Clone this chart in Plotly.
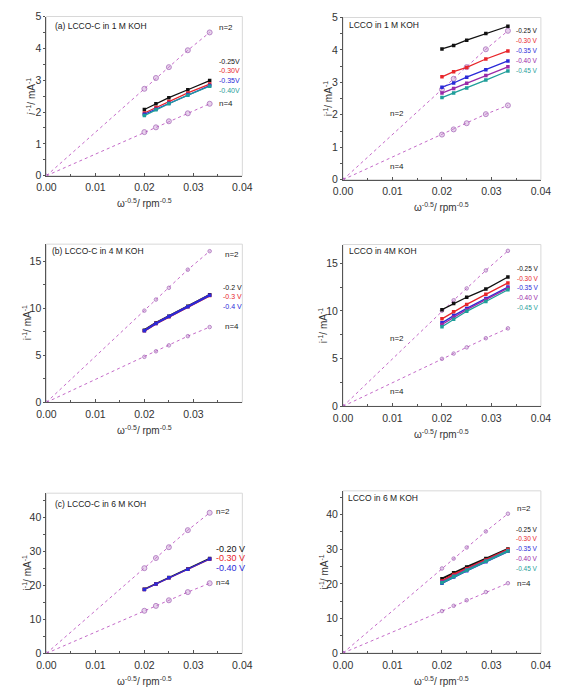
import plotly.graph_objects as go

# ---------------- data ----------------
w = [0.02, 0.02236, 0.025, 0.02887, 0.03333]  # omega^-0.5

# panel (a) LCCO-C 1 M KOH
a_n2 = [2.73, 3.07, 3.41, 3.94, 4.50]
a_n4 = [1.37, 1.52, 1.71, 1.96, 2.26]
a_names = ["-0.25V", "-0.30V", "-0.35V", "-0.40V"]
a_vals = [[2.08, 2.26, 2.45, 2.70, 2.99],
          [1.97, 2.14, 2.33, 2.60, 2.88],
          [1.93, 2.09, 2.28, 2.55, 2.83],
          [1.89, 2.07, 2.26, 2.53, 2.81]]

# LCCO 1 M KOH
b_n2 = [2.78, 3.11, 3.47, 4.02, 4.59]
b_n4 = [1.39, 1.55, 1.74, 2.02, 2.29]
b_names = ["-0.25 V", "-0.30 V", "-0.35 V", "-0.40 V", "-0.45 V"]
b_vals = [[4.03, 4.14, 4.30, 4.51, 4.73],
          [3.17, 3.33, 3.46, 3.72, 3.97],
          [2.85, 2.98, 3.16, 3.39, 3.66],
          [2.67, 2.81, 2.97, 3.21, 3.48],
          [2.53, 2.67, 2.83, 3.07, 3.35]]

# panel (b) LCCO-C 4 M KOH
c_n2 = [9.77, 10.95, 12.2, 14.13, 16.1]
c_n4 = [4.85, 5.44, 6.07, 7.05, 8.02]
c_names = ["-0.2 V", "-0.3 V", "-0.4 V"]
c_vals = [[7.68, 8.45, 9.18, 10.23, 11.45],
          [7.62, 8.40, 9.12, 10.17, 11.39],
          [7.64, 8.41, 9.14, 10.19, 11.41]]

# LCCO 4M KOH
d_n2 = [10.02, 11.12, 12.36, 14.25, 16.3]
d_n4 = [4.98, 5.53, 6.18, 7.14, 8.17]
d_names = ["-0.25 V", "-0.30 V", "-0.35 V", "-0.40 V", "-0.45 V"]
d_vals = [[10.13, 10.78, 11.43, 12.29, 13.56],
          [9.17, 9.92, 10.68, 11.74, 12.94],
          [8.75, 9.51, 10.26, 11.29, 12.50],
          [8.58, 9.34, 10.13, 11.19, 12.39],
          [8.34, 9.13, 9.96, 10.99, 12.22]]

# panel (c) LCCO-C 6 M KOH
e_n2 = [25.0, 27.98, 31.15, 36.15, 41.25]
e_n4 = [12.5, 13.94, 15.58, 17.98, 20.58]
e_names = ["-0.20 V", "-0.30 V", "-0.40 V"]
e_vals = [[18.85, 20.45, 22.25, 24.75, 27.85],
          [18.75, 20.35, 22.18, 24.68, 27.62],
          [18.75, 20.38, 22.21, 24.71, 27.69]]

# LCCO 6 M KOH
f_n2 = [24.45, 27.3, 30.52, 35.17, 40.28]
f_n4 = [12.13, 13.65, 15.26, 17.63, 20.19]
f_names = ["-0.25 V", "-0.30 V", "-0.35 V", "-0.40 V", "-0.45 V"]
f_vals = [[21.5, 23.2, 24.9, 27.3, 30.1],
          [20.8, 22.7, 24.4, 26.9, 29.9],
          [20.2, 22.0, 23.8, 26.4, 29.4],
          [20.5, 22.3, 24.1, 26.6, 29.6],
          [20.3, 22.1, 23.9, 26.5, 29.5]]

# ---------------- style ----------------
FONT = "Liberation Sans"
BLACK, RED, BLUE, PURP, TEAL = "#111111", "#e8262b", "#2a2ad8", "#9a2aa8", "#1f9e9a"
COLS5 = [BLACK, RED, BLUE, PURP, TEAL]
COLS4 = [BLACK, RED, BLUE, TEAL]
COLS3 = [BLACK, RED, BLUE]
NCOL = "#c46ac8"
NMARK = "#9b55b0"

W, H = 576, 699

def px2dom(x0, x1, y0, y1):
    return [x0 / W, x1 / W], [1 - y1 / H, 1 - y0 / H]

panels = [
    dict(box=(37.7, 240.7, 10.7, 172.7), yr=5, dt=1, n2=a_n2, n4=a_n4, names=a_names, vals=a_vals, cols=COLS4,
         lw=1.3, title="(a) LCCO-C in 1 M KOH", tpos=(0.0013, 4.69), lx=0.0348, ly=[3.58, 3.32, 2.99, 2.67],
         n2pos=(0.0348, 4.64), n4pos=(0.0348, 2.28), lsize=7, nm=5, xt=[0, 0.01, 0.02, 0.03, 0.04], ital=True,
         yoff=16),
    dict(box=(345, 550, 11.7, 176.7), yr=5, dt=1, n2=b_n2, n4=b_n4, names=b_names, vals=b_vals, cols=COLS5,
         lw=1.3, title="LCCO in 1 M KOH", tpos=(0.0008, 4.78), lx=0.0346, ly=[4.59, 4.28, 3.98, 3.68, 3.37],
         n2pos=(0.0091, 2.05), n4pos=(0.0091, 0.40), lsize=6.5, nm=5, xt=[0, 0.01, 0.02, 0.03, 0.04], ital=False,
         yoff=16),
    dict(box=(37.7, 240.7, 242.3, 403.3), yr=16.85, dt=5, n2=c_n2, n4=c_n4, names=c_names, vals=c_vals, cols=COLS3,
         lw=2.2, title="(b) LCCO-C in 4 M KOH", tpos=(0.0008, 16.15), lx=0.0356, ly=[12.28, 11.3, 10.25],
         n2pos=(0.0361, 15.7), n4pos=(0.0361, 8.06), lsize=7, nm=3.5, xt=[0, 0.01, 0.02, 0.03], ital=False,
         yoff=20),
    dict(box=(345, 550, 242.7, 407.3), yr=16.96, dt=5, n2=d_n2, n4=d_n4, names=d_names, vals=d_vals, cols=COLS5,
         lw=1.3, title="LCCO in 4M KOH", tpos=(0.0008, 16.3), lx=0.0348, ly=[14.42, 13.42, 12.43, 11.4, 10.37],
         n2pos=(0.0091, 7.1), n4pos=(0.0091, 1.58), lsize=6.5, nm=3.5, xt=[0, 0.01, 0.02, 0.03, 0.04], ital=False,
         yoff=20),
    dict(box=(37.7, 240.7, 495.7, 658.7), yr=47.0, dt=10, n2=e_n2, n4=e_n4, names=e_names, vals=e_vals, cols=COLS3,
         lw=1.3, title="(c) LCCO-C in 6 M KOH", tpos=(0.0014, 43.85), lx=0.0342, ly=[30.77, 27.88, 25.0],
         n2pos=(0.0342, 41.6), n4pos=(0.0342, 20.77), lsize=9, nm=5, xt=[0, 0.01, 0.02, 0.03, 0.04], ital=False,
         yoff=20),
    dict(box=(345, 550, 493.3, 658.3), yr=46.9, dt=10, n2=f_n2, n4=f_n4, names=f_names, vals=f_vals, cols=COLS5,
         lw=2.0, title="LCCO in 6 M KOH", tpos=(0.0006, 44.7), lx=0.0346, ly=[35.8, 33.0, 30.2, 27.4, 24.5],
         n2pos=(0.0348, 41.7), n4pos=(0.0348, 20.2), lsize=6.5, nm=3.5, xt=[0, 0.01, 0.02, 0.03, 0.04], ital=False,
         yoff=20),
]

fig = go.Figure()
annotations = []
shapes = []
layout = {}

for i, p in enumerate(panels):
    k = "" if i == 0 else str(i + 1)
    xa, ya = "x" + k, "y" + k
    xd, yd = px2dom(*p["box"])
    layout["xaxis" + k] = dict(
        domain=xd, anchor=ya, range=[0, 0.04], tickvals=p["xt"],
        ticktext=["%.2f" % v for v in p["xt"]],
        showgrid=False, zeroline=False, showline=True, linecolor="#555", linewidth=1,
        ticks="inside", ticklen=3, tickcolor="#555", ticklabelstandoff=2,
        minor=dict(tickvals=[0.005, 0.015, 0.025, 0.035], ticks="inside", ticklen=2, tickcolor="#555"),
        tickfont=dict(family=FONT, size=10.5, color="#333"), fixedrange=True)
    yt = list(range(0, int(p["yr"]) + 1, p["dt"]))
    layout["yaxis" + k] = dict(
        domain=yd, anchor=xa, range=[0, p["yr"]], tickvals=yt,
        showgrid=False, zeroline=False, showline=True, linecolor="#555", linewidth=1,
        ticks="outside", ticklen=2, tickcolor="#555",
        minor=dict(dtick=p["dt"] / 2, ticks="outside", ticklen=2, tickcolor="#555"),
        tickfont=dict(family=FONT, size=10.5, color="#333"), fixedrange=True)
    # light frame
    shapes.append(dict(type="rect", xref=xa + " domain", yref=ya + " domain", x0=0, x1=1, y0=0, y1=1,
                       line=dict(color="#d8d8d8", width=1), layer="below"))

    # n=2 / n=4 reference lines
    for nv in (p["n2"], p["n4"]):
        fig.add_trace(go.Scatter(
            x=[0] + w, y=[0] + nv, xaxis=xa, yaxis=ya, mode="lines+markers",
            line=dict(color=NCOL, width=1, dash="dot"),
            marker=dict(symbol="circle", size=[3] + [p["nm"]] * 5, color="rgba(200,150,210,0.6)",
                        line=dict(color=NMARK, width=1)),
            showlegend=False, hoverinfo="skip"))
    # potential series
    for name, vals, c in zip(p["names"], p["vals"], p["cols"]):
        fig.add_trace(go.Scatter(
            x=w, y=vals, xaxis=xa, yaxis=ya, mode="lines+markers", name=name,
            line=dict(color=c, width=p["lw"]), marker=dict(symbol="square", size=3.5, color=c),
            showlegend=False))
    # labels
    annotations.append(dict(x=p["tpos"][0], y=p["tpos"][1], xref=xa, yref=ya, text=p["title"],
                            showarrow=False, xanchor="left", yanchor="middle",
                            font=dict(family=FONT, size=8.5, color="#222")))
    for name, yy, c in zip(p["names"], p["ly"], p["cols"]):
        annotations.append(dict(x=p["lx"], y=yy, xref=xa, yref=ya, text=name, showarrow=False,
                                xanchor="left", yanchor="middle",
                                font=dict(family=FONT, size=p["lsize"], color=c)))
    for t, pos in (("n=2", p["n2pos"]), ("n=4", p["n4pos"])):
        annotations.append(dict(x=pos[0], y=pos[1], xref=xa, yref=ya, text=t, showarrow=False,
                                xanchor="left", yanchor="middle",
                                font=dict(family=FONT, size=8, color="#222")))
    # axis titles
    x0, x1, y0, y1 = p["box"]
    annotations.append(dict(x=(x0 + x1) / 2 / W, y=1 - (y1 + 28) / H, xref="paper", yref="paper",
                            text="ω<sup>-0.5</sup>/ rpm<sup>-0.5</sup>", showarrow=False,
                            xanchor="center", yanchor="middle",
                            font=dict(family=FONT, size=10, color="#333")))
    ytxt = ("<i>i</i><sup> -1</sup>/ mA<sup>-1</sup>" if p["ital"] else "i<sup>-1</sup>/ mA<sup>-1</sup>")
    annotations.append(dict(x=(x0 - p["yoff"]) / W, y=1 - (y0 + y1) / 2 / H, xref="paper", yref="paper",
                            text=ytxt, showarrow=False, textangle=-90,
                            xanchor="center", yanchor="middle",
                            font=dict(family=FONT, size=10, color="#333")))

fig.update_layout(
    width=W, height=H, margin=dict(l=0, r=0, t=0, b=0),
    paper_bgcolor="white", plot_bgcolor="white",
    annotations=annotations, shapes=shapes, showlegend=False, **layout)

fig.write_html("out.html")
